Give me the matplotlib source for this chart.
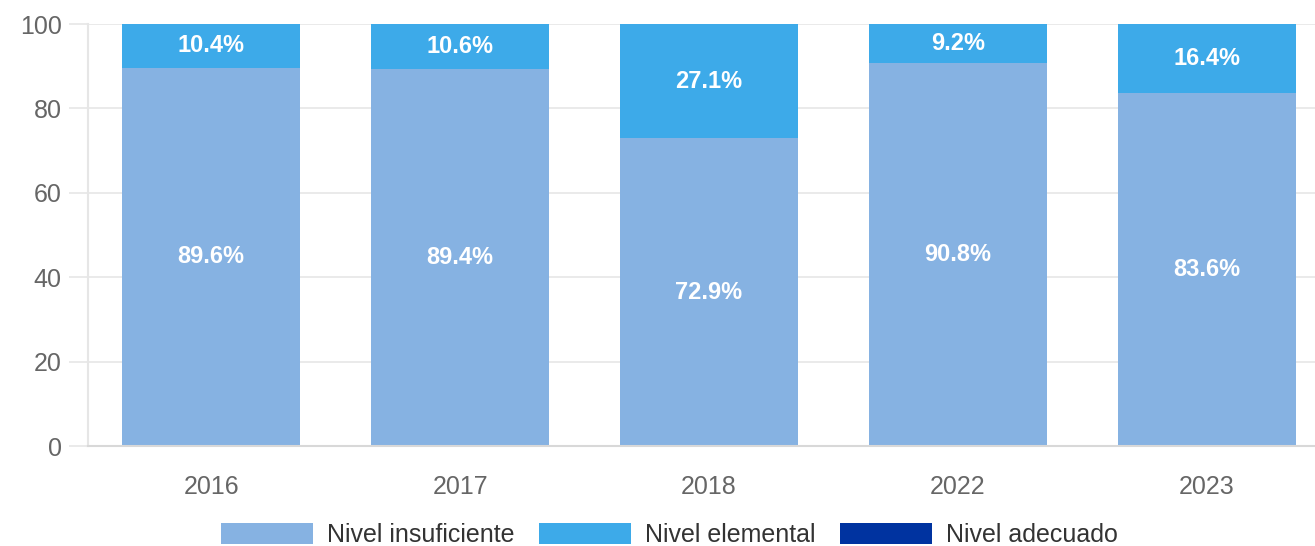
import matplotlib
matplotlib.use("Agg")
import matplotlib.pyplot as plt
from matplotlib.patches import Patch

# Values
years = ["2016", "2017", "2018", "2022", "2023"]
insuficiente = [89.6, 89.4, 72.9, 90.8, 83.6]
elemental = [10.4, 10.6, 27.1, 9.2, 16.4]
adecuado = [0, 0, 0, 0, 0]
series_names = ["Nivel insuficiente", "Nivel elemental", "Nivel adecuado"]
y_ticks = [0, 20, 40, 60, 80, 100]

colors = ["#86b2e2", "#3daae9", "#0033a0"]
text_grey = "#666666"
grid_grey = "#e6e6e6"

plt.rcParams["font.family"] = ["Liberation Sans", "DejaVu Sans"]

fig = plt.figure(figsize=(13.15, 5.46), dpi=100)
ax = fig.add_axes([88 / 1315, 1 - 446 / 546, 1 - 88 / 1315, (446 - 24) / 546])

x = list(range(len(years)))
width = 0.715
ax.bar(x, insuficiente, width=width, color=colors[0], zorder=2)
ax.bar(x, elemental, width=width, bottom=insuficiente, color=colors[1], zorder=2)
tops = [a + b for a, b in zip(insuficiente, elemental)]
ax.bar(x, adecuado, width=width, bottom=tops, color=colors[2], zorder=2)

for i in x:
    ax.text(i, insuficiente[i] / 2, f"{insuficiente[i]:.1f}%", ha="center", va="center",
            color="white", fontsize=17, fontweight="bold", zorder=3)
    ax.text(i, insuficiente[i] + elemental[i] / 2, f"{elemental[i]:.1f}%", ha="center",
            va="center", color="white", fontsize=17, fontweight="bold", zorder=3)

ax.set_xlim(-0.495, 4.435)
ax.set_ylim(0, 100)
ax.set_yticks(y_ticks)
ax.set_xticks(x)
ax.set_xticklabels(years)
ax.yaxis.grid(True, color=grid_grey, linewidth=1.2, zorder=0)
ax.set_axisbelow(True)

for side in ["top", "right"]:
    ax.spines[side].set_visible(False)
ax.spines["left"].set_color(grid_grey)
ax.spines["left"].set_linewidth(1.5)
ax.spines["bottom"].set_color("#d8d8d8")
ax.spines["bottom"].set_linewidth(1.5)

ax.tick_params(axis="y", length=14, width=1.2, color=grid_grey, pad=5,
               labelsize=18, labelcolor=text_grey)
ax.tick_params(axis="x", length=0, pad=21, labelsize=18, labelcolor=text_grey)

handles = [Patch(facecolor=c, edgecolor="none") for c in colors]
fig.legend(handles, series_names, loc="center", bbox_to_anchor=(0.509, 0.02), ncol=3,
           frameon=False, fontsize=18, labelcolor="#333333", handlelength=3.7,
           handleheight=0.9, handletextpad=0.56, columnspacing=0.96, borderpad=0)

fig.savefig("out.png", dpi=100)
